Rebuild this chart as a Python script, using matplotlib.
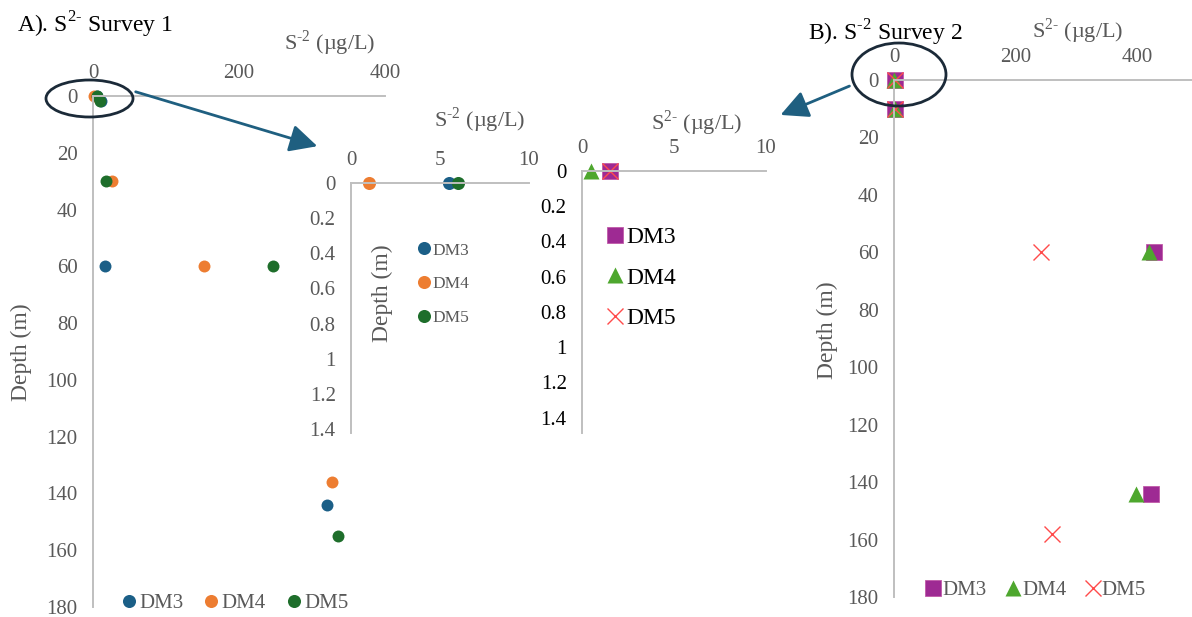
import matplotlib
matplotlib.use("Agg")
import matplotlib.pyplot as plt
from matplotlib.lines import Line2D
from matplotlib.patches import Ellipse, FancyArrowPatch
from matplotlib.ticker import FuncFormatter

plt.rcParams['font.family'] = ['Liberation Serif', 'DejaVu Serif']
plt.rcParams['mathtext.fontset'] = 'custom'
plt.rcParams['mathtext.rm'] = 'Liberation Serif'

# ---- Survey 1: sulphide concentration (µg/L) vs depth (m)
s1_dm3_conc = [5.5, 11, 17, 321]
s1_dm3_depth = [0, 1.7, 60, 144]
s1_dm4_conc = [1, 26, 152, 327]
s1_dm4_depth = [0, 30, 60, 136]
s1_dm5_conc = [6, 9, 18, 247, 336]
s1_dm5_depth = [0, 1.6, 30, 60, 155]

# ---- Survey 2
s2_dm3_conc = [1.5, 2, 428, 423]
s2_dm3_depth = [0, 10, 60, 144]
s2_dm4_conc = [0.5, 2, 420, 398]
s2_dm4_depth = [0, 10, 60, 144]
s2_dm5_conc = [1.5, 2, 242, 260]
s2_dm5_depth = [0, 10, 60, 158]

series_names = ["DM3", "DM4", "DM5"]
main_xticks = [0, 200, 400]
main_yticks = list(range(0, 181, 20))
inset_xticks = [0, 5, 10]
inset_yticks = [0, 0.2, 0.4, 0.6, 0.8, 1.0, 1.2, 1.4]

C1 = ["#1b5f87", "#ed7d31", "#1e6e2b"]
C2 = ["#9e2a93", "#4ea72e", "#ff4b4b"]
GREY = "#595959"
SPINE = "#bfbfbf"

SUP_2M = r"$^{\text{2-}}$"
SUP_M2 = r"$^{\text{-2}}$"

W, H = 1192, 617
fig = plt.figure(figsize=(W / 100, H / 100), dpi=100)


def add_px_axes(x0, y0, x1, y1):
    ax = fig.add_axes([x0 / W, 1 - y1 / H, (x1 - x0) / W, (y1 - y0) / H])
    ax.set_facecolor("none")
    return ax


def style(ax, xticks, yticks, xcol=GREY, ycol=GREY):
    for s in ("bottom", "right"):
        ax.spines[s].set_visible(False)
    for s in ("top", "left"):
        ax.spines[s].set_color(SPINE)
        ax.spines[s].set_linewidth(1.4)
    ax.xaxis.tick_top()
    ax.set_xticks(xticks)
    ax.set_yticks(yticks)
    fmt = FuncFormatter(lambda v, p: f"{v:g}")
    ax.xaxis.set_major_formatter(fmt)
    ax.yaxis.set_major_formatter(fmt)
    ax.tick_params(axis="both", length=0, labelsize=15)
    ax.tick_params(axis="x", labelcolor=xcol, pad=9.5)
    ax.tick_params(axis="y", labelcolor=ycol, pad=11)


def px_to_axes(box, px, py):
    x0, y0, x1, y1 = box
    return (px - x0) / (x1 - x0), (y1 - py) / (y1 - y0)


def place_xlabel(ax, box, text, px, py, size=16, color=GREY):
    ax.set_xlabel(text, fontsize=size, color=color)
    ax.xaxis.set_label_position("top")
    ax.xaxis.set_label_coords(*px_to_axes(box, px, py))
    ax.xaxis.label.set_va("center")
    ax.xaxis.label.set_ha("center")


def place_ylabel(ax, box, text, px, py, size=17, color=GREY):
    ax.set_ylabel(text, fontsize=size, color=color)
    ax.yaxis.set_label_coords(*px_to_axes(box, px, py))
    ax.yaxis.label.set_va("center")
    ax.yaxis.label.set_ha("center")


# ---------------- A: main axes ----------------
boxA = (93, 96, 385, 607)
axA = add_px_axes(*boxA)
axA.set_xlim(0, 400)
axA.set_ylim(180, 0)
style(axA, main_xticks, main_yticks)
s1 = [(s1_dm3_conc, s1_dm3_depth), (s1_dm4_conc, s1_dm4_depth), (s1_dm5_conc, s1_dm5_depth)]
for (xc, yd), col in zip(s1, C1):
    axA.plot(xc, yd, "o", ms=8.6, color=col, mec="none", clip_on=False)
place_xlabel(axA, boxA, "S" + SUP_M2 + " (µg/L)", 330, 43)
place_ylabel(axA, boxA, "Depth (m)", 21, 352)

# ---------------- A: zoomed inset ----------------
boxAi = (351, 183, 529, 433)
axAi = add_px_axes(*boxAi)
axAi.set_xlim(0, 10)
axAi.set_ylim(1.423, 0)
style(axAi, inset_xticks, inset_yticks)
for (xc, yd), col in zip(s1, C1):
    pts = [(x, y) for x, y in zip(xc, yd) if x <= 10 and y <= 1.4]
    axAi.plot([p[0] for p in pts], [p[1] for p in pts], "o", ms=9.4, color=col,
              mec="none", clip_on=False)
place_xlabel(axAi, boxAi, "S" + SUP_M2 + " (µg/L)", 480, 120)
place_ylabel(axAi, boxAi, "Depth (m)", 382, 293)
hA = [Line2D([], [], ls="none", marker="o", ms=9.4, color=c, mec="none") for c in C1]
axAi.legend(hA, series_names, loc="center left", frameon=False, fontsize=12.5,
            handlelength=0.75, handletextpad=0.1, labelspacing=1.0, borderpad=0,
            borderaxespad=0, labelcolor=GREY, bbox_to_anchor=(417.5 / W, 1 - 284 / H),
            bbox_transform=fig.transFigure)

fig.legend(hA, series_names, loc="center", ncol=3, frameon=False, fontsize=15,
           handlelength=0.7, handletextpad=0.15, columnspacing=1.0, borderpad=0,
           borderaxespad=0, labelcolor=GREY, bbox_to_anchor=(235 / W, 1 - 603 / H))

# ---------------- B: zoomed inset ----------------
s2 = [(s2_dm3_conc, s2_dm3_depth), (s2_dm4_conc, s2_dm4_depth), (s2_dm5_conc, s2_dm5_depth)]
mk2 = [dict(marker="s", ms=11.5, mec="#c05aa8", mew=0.6),
       dict(marker="^", ms=11, mec="none"),
       dict(marker="x", ms=11.5, mew=1.0)]

boxBi = (582, 171, 766, 433)
axBi = add_px_axes(*boxBi)
axBi.set_xlim(0, 10)
axBi.set_ylim(1.488, 0)
style(axBi, inset_xticks, inset_yticks, xcol=GREY, ycol="black")
for (xc, yd), col, mk in zip(s2, C2, mk2):
    pts = [(x, y) for x, y in zip(xc, yd) if x <= 10 and y <= 1.4]
    axBi.plot([p[0] for p in pts], [p[1] for p in pts], ls="none", color=col,
              clip_on=False, **mk)
place_xlabel(axBi, boxBi, "S" + SUP_2M + " (µg/L)", 697, 123)
hB = [Line2D([], [], ls="none", color=c, **m) for c, m in zip(C2, mk2)]
axBi.legend(hB, series_names, loc="center left", frameon=False, fontsize=17,
            handlelength=0.7, handletextpad=0.1, labelspacing=0.8, borderpad=0,
            borderaxespad=0, labelcolor="black", bbox_to_anchor=(607 / W, 1 - 278 / H),
            bbox_transform=fig.transFigure)

# ---------------- B: main axes ----------------
boxB = (894, 80, 1192, 597)
axB = add_px_axes(*boxB)
axB.set_xlim(0, 490.5)
axB.set_ylim(180, 0)
style(axB, main_xticks, main_yticks)
for (xc, yd), col, mk in zip(s2, C2, mk2):
    axB.plot(xc, yd, ls="none", color=col, clip_on=False, **mk)
place_xlabel(axB, boxB, "S" + SUP_2M + " (µg/L)", 1078, 31)
place_ylabel(axB, boxB, "Depth (m)", 827, 330)
fig.legend(hB, series_names, loc="center", ncol=3, frameon=False, fontsize=15,
           handlelength=0.7, handletextpad=0.1, columnspacing=0.9, borderpad=0,
           borderaxespad=0, labelcolor=GREY, bbox_to_anchor=(1036 / W, 1 - 590 / H))

# ---------------- titles ----------------
fig.text(17 / W, 1 - 25 / H, "A). S" + SUP_2M + " Survey 1", fontsize=17,
         ha="left", va="center", color="black")
fig.text(808 / W, 1 - 33 / H, "B). S" + SUP_M2 + " Survey 2", fontsize=17,
         ha="left", va="center", color="black")

# ---------------- callout ellipses and arrows ----------------
ov = fig.add_axes([0, 0, 1, 1])
ov.set_xlim(0, W)
ov.set_ylim(H, 0)
ov.axis("off")
ov.set_zorder(10)
ring = "#1b2a38"
arrow_col = "#1f5f80"
ov.add_patch(Ellipse((89.5, 98.5), 87, 37, fill=False, ec=ring, lw=2))
ov.add_patch(Ellipse((899, 74.5), 94, 63, fill=False, ec=ring, lw=2))
ov.add_patch(FancyArrowPatch((133, 91), (320, 147), arrowstyle="-|>,head_length=0.7,head_width=0.35",
                             mutation_scale=24, lw=2, color=arrow_col))
ov.add_patch(FancyArrowPatch((852, 85), (778, 116), arrowstyle="-|>,head_length=0.7,head_width=0.35",
                             mutation_scale=24, lw=2, color=arrow_col))

fig.savefig("out.png", dpi=100)
